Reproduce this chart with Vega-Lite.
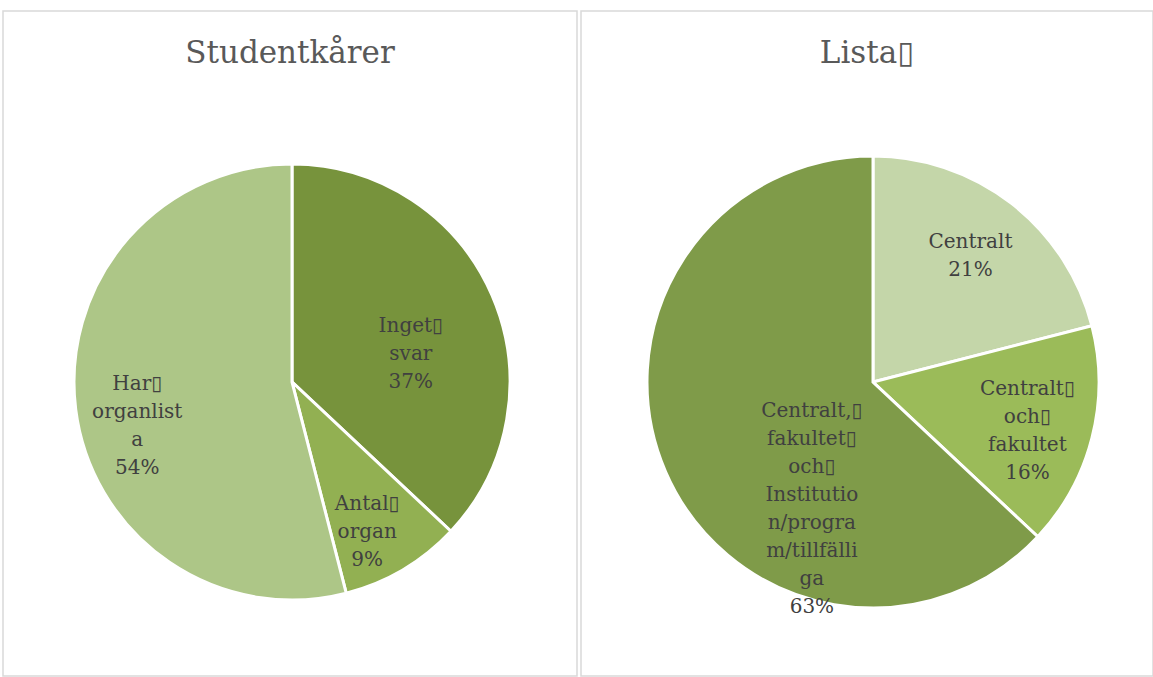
{
  "$schema": "https://vega.github.io/schema/vega-lite/v6.json",
  "padding": {"left": 2, "top": 10, "right": 0, "bottom": 0},
  "autosize": {"type": "pad"},
  "spacing": 2,
  "background": "white",
  "config": {
    "view": {"stroke": null},
    "font": "DejaVu Serif"
  },
  "resolve": {"scale": {"color": "independent", "theta": "independent"}},
  "hconcat": [
    {
      "width": 574,
      "height": 665,
      "title": {"text": "Studentkårer", "offset": -60, "fontSize": 31, "font": "DejaVu Serif", "fontWeight": "normal", "color": "#595959", "anchor": "middle"},
      "data": {"values": [
        {"n": 1, "kategori": "Inget svar", "andel": 37, "etikett": "Inget▯|svar|37%"},
        {"n": 2, "kategori": "Antal organ", "andel": 9, "etikett": "Antal▯|organ|9%"},
        {"n": 3, "kategori": "Har organlista", "andel": 54, "etikett": "Har▯|organlist|a|54%"}
      ]},
      "layer": [
        {"data": {"values": [{"ram": 1}]}, "mark": {"type": "rect", "fill": "white", "fillOpacity": 0, "stroke": "#d9d9d9", "strokeWidth": 1.5}, "encoding": {}},
        {"mark": {"type": "arc", "outerRadius": 218, "stroke": "white", "strokeWidth": 3, "x": 289, "y": 371},
         "encoding": {
           "theta": {"field": "andel", "type": "quantitative", "stack": true},
           "order": {"field": "n", "type": "quantitative"},
           "color": {"field": "kategori", "type": "nominal", "legend": null,
             "scale": {"domain": ["Inget svar", "Antal organ", "Har organlista"], "range": ["#77933c", "#92b052", "#adc687"]}}
         }},
        {"mark": {"type": "text", "radius": 122, "thetaOffset": 0.18, "dy": -28, "x": 289, "y": 371, "lineBreak": "|", "fontSize": 20, "lineHeight": 28, "fill": "#404040"},
         "encoding": {"theta": {"field": "andel", "type": "quantitative", "stack": true}, "order": {"field": "n", "type": "quantitative"},
           "text": {"condition": {"test": "datum.kategori === 'Inget svar'", "field": "etikett"}, "value": ""}}},
        {"mark": {"type": "text", "radius": 168, "thetaOffset": 0.07, "dy": -28, "x": 289, "y": 371, "lineBreak": "|", "fontSize": 20, "lineHeight": 28, "fill": "#404040"},
         "encoding": {"theta": {"field": "andel", "type": "quantitative", "stack": true}, "order": {"field": "n", "type": "quantitative"},
           "text": {"condition": {"test": "datum.kategori === 'Antal organ'", "field": "etikett"}, "value": ""}}},
        {"mark": {"type": "text", "radius": 161, "thetaOffset": -0.154, "dy": -42, "x": 289, "y": 371, "lineBreak": "|", "fontSize": 20, "lineHeight": 28, "fill": "#404040"},
         "encoding": {"theta": {"field": "andel", "type": "quantitative", "stack": true}, "order": {"field": "n", "type": "quantitative"},
           "text": {"condition": {"test": "datum.kategori === 'Har organlista'", "field": "etikett"}, "value": ""}}}
      ]
    },
    {
      "width": 572,
      "height": 665,
      "title": {"text": "Lista▯", "offset": -60, "fontSize": 31, "font": "DejaVu Serif", "fontWeight": "normal", "color": "#595959", "anchor": "middle"},
      "data": {"values": [
        {"n": 1, "niva": "Centralt", "andel": 21, "etikett": "Centralt|21%"},
        {"n": 2, "niva": "Centralt och fakultet", "andel": 16, "etikett": "Centralt▯|och▯|fakultet|16%"},
        {"n": 3, "niva": "Centralt, fakultet och Institution/program/tillfälliga", "andel": 63, "etikett": "Centralt,▯|fakultet▯|och▯|Institutio|n/progra|m/tillfälli|ga|63%"}
      ]},
      "layer": [
        {"data": {"values": [{"ram": 1}]}, "mark": {"type": "rect", "fill": "white", "fillOpacity": 0, "stroke": "#d9d9d9", "strokeWidth": 1.5}, "encoding": {}},
        {"mark": {"type": "arc", "outerRadius": 226, "stroke": "white", "strokeWidth": 3, "x": 292, "y": 371},
         "encoding": {
           "theta": {"field": "andel", "type": "quantitative", "stack": true},
           "order": {"field": "n", "type": "quantitative"},
           "color": {"field": "niva", "type": "nominal", "legend": null,
             "scale": {"domain": ["Centralt", "Centralt och fakultet", "Centralt, fakultet och Institution/program/tillfälliga"], "range": ["#c4d6a9", "#9bbb59", "#7f9b49"]}}
         }},
        {"mark": {"type": "text", "radius": 159, "thetaOffset": 0, "dy": -14, "x": 292, "y": 371, "lineBreak": "|", "fontSize": 20, "lineHeight": 28, "fill": "#404040"},
         "encoding": {"theta": {"field": "andel", "type": "quantitative", "stack": true}, "order": {"field": "n", "type": "quantitative"},
           "text": {"condition": {"test": "datum.n === 1", "field": "etikett"}, "value": ""}}},
        {"mark": {"type": "text", "radius": 162, "thetaOffset": 0.056, "dy": -42, "x": 292, "y": 371, "lineBreak": "|", "fontSize": 20, "lineHeight": 28, "fill": "#404040"},
         "encoding": {"theta": {"field": "andel", "type": "quantitative", "stack": true}, "order": {"field": "n", "type": "quantitative"},
           "text": {"condition": {"test": "datum.n === 2", "field": "etikett"}, "value": ""}}},
        {"mark": {"type": "text", "radius": 141, "thetaOffset": -0.714, "dy": -98, "x": 292, "y": 371, "lineBreak": "|", "fontSize": 20, "lineHeight": 28, "fill": "#404040"},
         "encoding": {"theta": {"field": "andel", "type": "quantitative", "stack": true}, "order": {"field": "n", "type": "quantitative"},
           "text": {"condition": {"test": "datum.n === 3", "field": "etikett"}, "value": ""}}}
      ]
    }
  ]
}
